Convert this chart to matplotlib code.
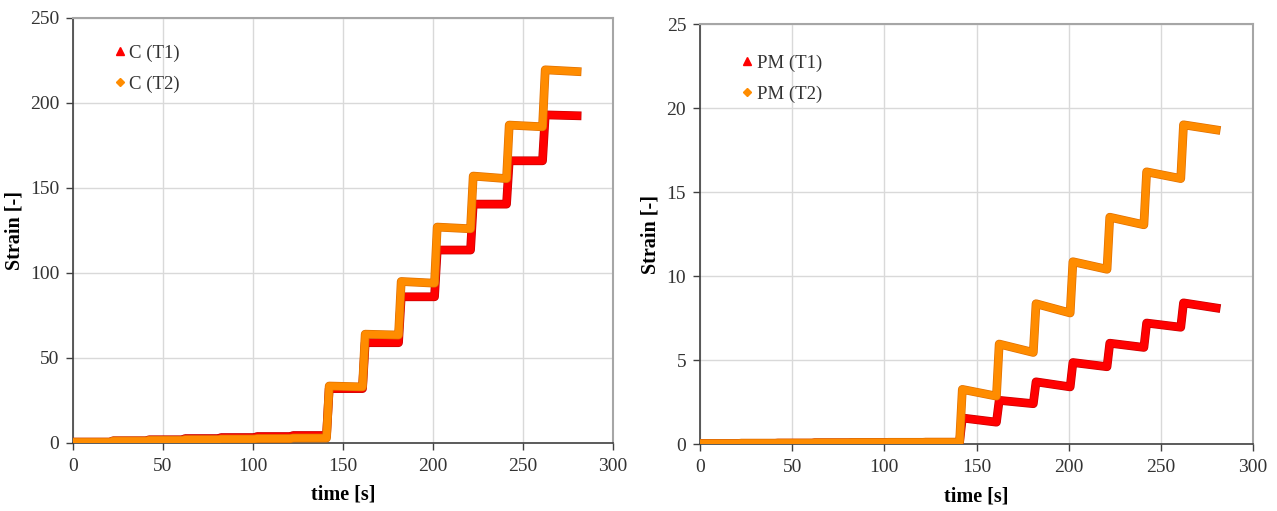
import numpy as np
import matplotlib
matplotlib.use("Agg")
import matplotlib.pyplot as plt
from matplotlib.lines import Line2D
import matplotlib.patheffects as pe

# load steps are applied every 20 s, test ends at 280 s
step_times = [0, 20, 40, 60, 80, 100, 120, 140, 160, 180, 200, 220, 240, 260]
t_end = 280

# C specimen: strain right after each load step and just before the next one
c_t1_start = [0.5, 1.3, 1.9, 2.6, 3.2, 3.8, 4.4, 32, 59, 86, 113.5, 140.5, 166, 193]
c_t1_end = [0.5, 1.3, 1.9, 2.6, 3.2, 3.8, 4.4, 32, 59, 86, 113.5, 140.5, 166, 192.5]
c_t2_start = [0.5, 1.2, 1.6, 2.0, 2.3, 2.6, 2.9, 33.5, 64, 95, 127, 157, 187, 219.5]
c_t2_end = [0.5, 1.2, 1.6, 2.0, 2.3, 2.6, 2.9, 33, 63.5, 94, 126, 155.5, 186, 218.5]

# PM specimen
pm_t1_start = [0.02, 0.04, 0.05, 0.07, 0.08, 0.09, 0.10, 1.55, 2.6, 3.7, 4.85, 6.0, 7.2, 8.4]
pm_t1_end = [0.02, 0.04, 0.05, 0.07, 0.08, 0.09, 0.10, 1.3, 2.4, 3.4, 4.6, 5.75, 6.95, 8.1]
pm_t2_start = [0.03, 0.05, 0.06, 0.08, 0.09, 0.10, 0.11, 3.25, 5.95, 8.35, 10.85, 13.5, 16.2, 19.0]
pm_t2_end = [0.03, 0.05, 0.06, 0.08, 0.09, 0.10, 0.11, 2.85, 5.45, 7.8, 10.4, 13.05, 15.8, 18.7]

RED = "#FF0000"
RED_EDGE = "#C80000"
ORANGE = "#FF8C00"
ORANGE_EDGE = "#E07000"

plt.rcParams["font.family"] = ["Liberation Serif", "DejaVu Serif"]


def step_path(starts, ends):
    # corner points of the staircase: short ramp at each load step, then hold
    t, y = [step_times[0]], [starts[0]]
    for i, t0 in enumerate(step_times):
        if i > 0:
            t += [t0 + 0.8, t0 + 2.3]
            y += [ends[i - 1], starts[i]]
        nxt = step_times[i + 1] + 0.8 if i + 1 < len(step_times) else t_end
        t.append(nxt)
        y.append(ends[i])
    return np.array(t), np.array(y)


def draw_series(ax, starts, ends, color, edge):
    t, y = step_path(starts, ends)
    ax.plot(t, y, color=color, lw=5.3, solid_joinstyle="round",
            solid_capstyle="projecting", zorder=3,
            path_effects=[pe.Stroke(linewidth=6.3, foreground=edge), pe.Normal()])


def style_axes(ax, ymax, ystep):
    ax.set_xlim(0, 300)
    ax.set_ylim(0, ymax)
    ax.set_xticks(np.arange(0, 301, 50))
    ax.set_yticks(np.arange(0, ymax + 0.1, ystep))
    ax.grid(True, color="#D9D9D9", lw=1.0)
    ax.set_axisbelow(True)
    for side in ("left", "bottom"):
        ax.spines[side].set_color("#404040")
        ax.spines[side].set_linewidth(1.2)
    for side in ("top", "right"):
        ax.spines[side].set_color("#A6A6A6")
        ax.spines[side].set_linewidth(1.5)
    ax.tick_params(axis="both", direction="out", length=5, width=1,
                   color="#404040", labelsize=14, labelcolor="#333333", pad=5)
    ax.tick_params(axis="x", pad=6)
    ax.set_xlabel("time [s]", fontsize=14.5, fontweight="bold", labelpad=7)
    ax.set_ylabel("Strain [-]", fontsize=14.5, fontweight="bold", labelpad=4)


def add_legend(ax, names, top):
    handles = [
        Line2D([], [], ls="none", marker="^", ms=5.5, color=RED, mec=RED),
        Line2D([], [], ls="none", marker="D", ms=4.5, color=ORANGE, mec=ORANGE),
    ]
    ax.legend(handles, names, loc="upper left", bbox_to_anchor=(0.045, top),
              frameon=False, fontsize=13.5, handlelength=0.6, handletextpad=0.2,
              labelspacing=0.75, labelcolor="#333333")


fig = plt.figure(figsize=(12.77, 5.11), dpi=100)
ax1 = fig.add_axes([0.0572, 0.1331, 0.4229, 0.8317])
ax2 = fig.add_axes([0.5482, 0.1311, 0.4330, 0.8219])

draw_series(ax1, c_t1_start, c_t1_end, RED, RED_EDGE)
draw_series(ax1, c_t2_start, c_t2_end, ORANGE, ORANGE_EDGE)
style_axes(ax1, 250, 50)
add_legend(ax1, ["C (T1)", "C (T2)"], 0.978)

draw_series(ax2, pm_t1_start, pm_t1_end, RED, RED_EDGE)
draw_series(ax2, pm_t2_start, pm_t2_end, ORANGE, ORANGE_EDGE)
style_axes(ax2, 25, 5)
add_legend(ax2, ["PM (T1)", "PM (T2)"], 0.968)

fig.savefig("out.png", dpi=100)
